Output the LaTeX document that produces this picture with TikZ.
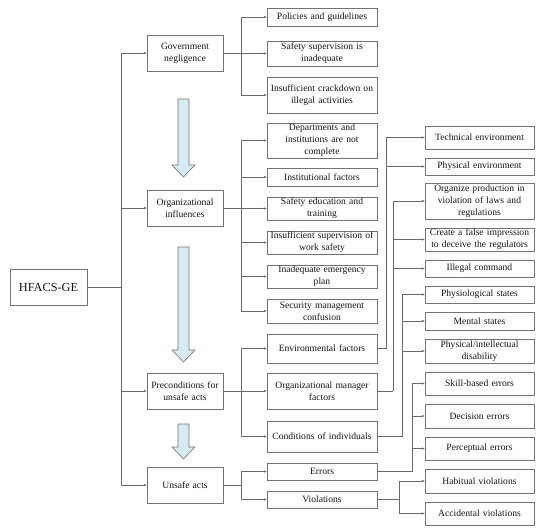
\documentclass[tikz,border=0pt]{standalone}
\usepackage{fontspec}
\setmainfont{Liberation Serif}
\usetikzlibrary{arrows.meta}
\definecolor{linegray}{RGB}{105,105,105}
\definecolor{boxgray}{RGB}{115,115,115}
\definecolor{arrowfill}{RGB}{214,236,242}
\definecolor{txt}{RGB}{20,20,20}
\tikzset{
  box/.style={draw=boxgray, line width=0.7pt, align=center, inner sep=1pt, text=txt,
    font=\fontsize{9.6}{12}\selectfont},
  c2/.style={box, minimum width=76pt, minimum height=36pt, text width=74pt},
  c3/.style={box, minimum width=110pt, text width=108pt},
  c4/.style={box, minimum width=109pt, text width=107pt},
  conn/.style={draw=linegray, line width=0.6pt},
  arr/.style={conn, -{Stealth[length=3pt,width=2.4pt]}},
  blockarrow/.style={draw=boxgray, line width=0.6pt, fill=arrowfill, line join=miter}
}
\newcommand\bigdownarrow[4]{% x, top, headbase, tip
  \draw[blockarrow] (#1-5.5,#2) -- (#1+5.5,#2) -- (#1+5.5,#3) -- (#1+11.5,#3) -- (#1,#4)
    -- (#1-11.5,#3) -- (#1-5.5,#3) -- cycle;}
\begin{document}
\begin{tikzpicture}[x=1pt,y=-1pt]
\useasboundingbox (0,0) rectangle (550,531);
% branch coordinates
\coordinate (b1) at (121,0);
\coordinate (b2) at (241,0);
\coordinate (bEnv) at (386,0);
\coordinate (bOrg) at (393,0);
\coordinate (bCon) at (402,0);
\coordinate (bErr) at (412,0);
\coordinate (bVio) at (399,0);

% root
\node[box, minimum width=77pt, minimum height=36pt, font=\fontsize{12.3}{14}\selectfont] (hf) at (48.5,287) {HFACS-GE};

% column 2
\node[c2] (gov) at (185,53) {Government\\negligence};
\node[c2] (org) at (185,208) {Organizational\\influences};
\node[c2] (pre) at (185,391) {Preconditions for\\unsafe acts};
\node[c2] (uns) at (185,485) {Unsafe acts};

% block arrows
\bigdownarrow{183.5}{99}{165}{177}
\bigdownarrow{183.5}{247}{350}{362}
\bigdownarrow{183.5}{424}{447}{459}

% column 3
\node[c3, minimum height=18pt] (g1) at (322,17) {Policies and guidelines};
\node[c3, minimum height=25pt] (g2) at (322,53.5) {Safety supervision is\\inadequate};
\node[c3, minimum height=36pt] (g3) at (322,95) {Insufficient crackdown on\\illegal activities};

\node[c3, minimum height=33pt] (o1) at (322,140.5) {Departments and\\institutions are not\\complete};
\node[c3, minimum height=18pt] (o2) at (322,177) {Institutional factors};
\node[c3, minimum height=23pt] (o3) at (322,208.5) {Safety education and\\training};
\node[c3, minimum height=23pt] (o4) at (322,242.5) {Insufficient supervision of\\work safety};
\node[c3, minimum height=23pt] (o5) at (322,276.5) {Inadequate emergency\\plan};
\node[c3, minimum height=24pt] (o6) at (322,311) {Security management\\confusion};

\node[c3, minimum height=29pt] (p1) at (322,348.5) {Environmental factors};
\node[c3, minimum height=36pt] (p2) at (322,391) {Organizational manager\\factors};
\node[c3, minimum height=31pt] (p3) at (322,436.5) {Conditions of individuals};

\node[c3, minimum height=17pt] (u1) at (322,471.5) {Errors};
\node[c3, minimum height=17pt] (u2) at (322,499.5) {Violations};

% column 4
\node[c4, minimum height=23pt] (e1) at (479.5,137.5) {Technical environment};
\node[c4, minimum height=17pt] (e2) at (479.5,166.5) {Physical environment};
\node[c4, minimum height=36pt] (m1) at (479.5,201) {Organize production in\\violation of laws and\\regulations};
\node[c4, minimum height=23pt] (m2) at (479.5,239.5) {Create a false impression\\to deceive the regulators};
\node[c4, minimum height=17pt] (m3) at (479.5,268.5) {Illegal command};
\node[c4, minimum height=17pt] (i1) at (479.5,294.5) {Physiological states};
\node[c4, minimum height=18pt] (i2) at (479.5,321) {Mental states};
\node[c4, minimum height=24pt] (i3) at (479.5,351) {Physical/intellectual\\disability};
\node[c4, minimum height=23pt] (r1) at (479.5,383.5) {Skill-based errors};
\node[c4, minimum height=24pt] (r2) at (479.5,416) {Decision errors};
\node[c4, minimum height=23pt] (r3) at (479.5,448.5) {Perceptual errors};
\node[c4, minimum height=24pt] (v1) at (479.5,481) {Habitual violations};
\node[c4, minimum height=23pt] (v2) at (479.5,513.5) {Accidental violations};

% trunk
\draw[conn] (hf.east) -- (hf.east -| b1);
\foreach \n in {gov,org,pre,uns} \draw[arr] (hf.east -| b1) |- (\n.west);

% column 2 -> column 3
\draw[conn] (gov.east) -- (gov.east -| b2);
\foreach \n in {g1,g2,g3} \draw[arr] (gov.east -| b2) |- (\n.west);
\draw[conn] (org.east) -- (org.east -| b2);
\foreach \n in {o1,o2,o3,o4,o5,o6} \draw[arr] (org.east -| b2) |- (\n.west);
\draw[conn] (pre.east) -- (pre.east -| b2);
\foreach \n in {p1,p2,p3} \draw[arr] (pre.east -| b2) |- (\n.west);
\draw[conn] (uns.east) -- (uns.east -| b2);
\foreach \n in {u1,u2} \draw[arr] (uns.east -| b2) |- (\n.west);

% column 3 -> column 4
\draw[conn] (p1.east) -- (p1.east -| bEnv);
\foreach \n in {e1,e2} \draw[arr] (p1.east -| bEnv) |- (\n.west);
\draw[conn] (p2.east) -- (p2.east -| bOrg);
\foreach \n in {m1,m2,m3} \draw[arr] (p2.east -| bOrg) |- (\n.west);
\draw[conn] (p3.east) -- (p3.east -| bCon);
\foreach \n in {i1,i2,i3} \draw[arr] (p3.east -| bCon) |- (\n.west);
\draw[conn] (u1.east) -- (u1.east -| bErr);
\foreach \n in {r1,r2,r3} \draw[arr] (u1.east -| bErr) |- (\n.west);
\draw[conn] (u2.east) -- (u2.east -| bVio);
\foreach \n in {v1,v2} \draw[arr] (u2.east -| bVio) |- (\n.west);
\end{tikzpicture}
\end{document}
